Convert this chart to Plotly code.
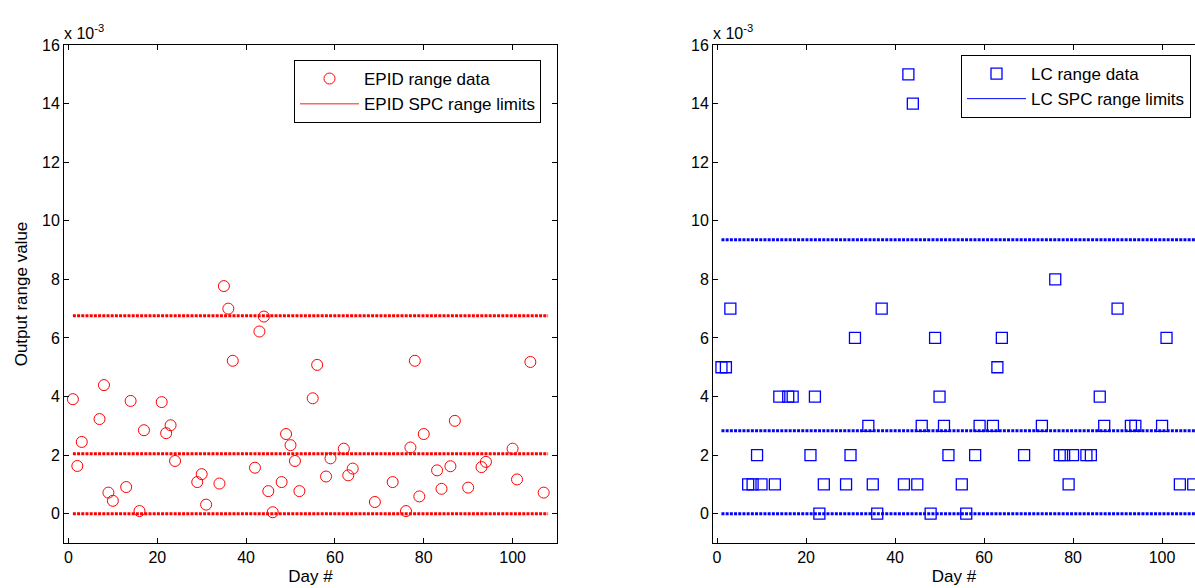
import plotly.graph_objects as go

# Day numbers (shared by both data sets)
days = [1, 2, 3, 7, 8, 9, 10, 13, 14, 16, 17, 21, 22, 23, 24, 29, 30, 31, 34, 35,
        36, 37, 42, 43, 44, 45, 46, 48, 49, 50, 51, 52, 55, 56, 58, 59, 62, 63, 64,
        69, 73, 76, 77, 78, 79, 80, 83, 84, 86, 87, 90, 93, 94, 100, 101, 104, 107]

# Output range values, in units of 1e-3
epid_range = [3.91, 1.63, 2.45, 3.23, 4.39, 0.72, 0.44, 0.91, 3.85, 0.09, 2.85,
              3.81, 2.75, 3.02, 1.80, 1.08, 1.35, 0.31, 1.03, 7.77, 7.00, 5.22,
              1.57, 6.22, 6.73, 0.77, 0.05, 1.08, 2.72, 2.34, 1.80, 0.77, 3.94,
              5.08, 1.27, 1.89, 2.22, 1.31, 1.54, 0.40, 1.08, 0.09, 2.26, 5.22,
              0.59, 2.72, 1.48, 0.85, 1.62, 3.17, 0.89, 1.59, 1.77, 2.22, 1.17,
              5.18, 0.72]

lc_range = [5, 5, 7, 1, 1, 2, 1, 1, 4, 4, 4, 2, 4, 0, 1, 1, 2, 6, 3, 1,
            0, 7, 1, 15, 14, 1, 3, 0, 6, 4, 3, 2, 1, 0, 2, 3, 3, 5, 6,
            2, 3, 8, 2, 2, 1, 2, 2, 2, 4, 3, 7, 3, 3, 3, 6, 1, 1]

# SPC range limits (lower, centre, upper), units of 1e-3
limit_days = [1, 108]
epid_limits = [0.0, 2.05, 6.76]
lc_limits = [0.0, 2.83, 9.35]

RED = "#ff0000"
BLUE = "#0000ff"
FONT = "Liberation Sans, Arial, sans-serif"

W, H = 1195, 588
L_MARG, T_MARG, B_MARG = 0, 45, 45
PH = H - T_MARG - B_MARG

fig = go.Figure()

# ---- left panel ----
fig.add_trace(go.Scatter(
    x=days, y=epid_range, mode="markers", name="EPID range data",
    marker=dict(symbol="circle-open", size=11, color=RED, line=dict(width=1, color=RED)),
    xaxis="x", yaxis="y", legend="legend"))
for v in epid_limits:
    fig.add_trace(go.Scatter(
        x=limit_days, y=[v, v], mode="lines", showlegend=False,
        line=dict(color=RED, width=3, dash="3px,1.2px"),
        xaxis="x", yaxis="y", hoverinfo="skip"))
fig.add_trace(go.Scatter(
    x=[None], y=[None], mode="lines", name="EPID SPC range limits",
    line=dict(color="#ff6666", width=1.5), xaxis="x", yaxis="y", legend="legend"))

# ---- right panel ----
fig.add_trace(go.Scatter(
    x=days, y=lc_range, mode="markers", name="LC range data",
    marker=dict(symbol="square-open", size=11, color=BLUE, line=dict(width=1.3, color=BLUE)),
    xaxis="x2", yaxis="y2", legend="legend2"))
for v in lc_limits:
    fig.add_trace(go.Scatter(
        x=limit_days, y=[v, v], mode="lines", showlegend=False,
        line=dict(color=BLUE, width=3, dash="3px,1.2px"),
        xaxis="x2", yaxis="y2", hoverinfo="skip"))
fig.add_trace(go.Scatter(
    x=[None], y=[None], mode="lines", name="LC SPC range limits",
    line=dict(color=BLUE, width=1), xaxis="x2", yaxis="y2", legend="legend2"))

axis_common = dict(
    showgrid=False, zeroline=False, showline=True, linecolor="black", linewidth=1,
    ticks="inside", ticklen=5, tickcolor="black",
    tickfont=dict(family=FONT, size=16, color="black"),
)

legend_common = dict(xanchor="right", yanchor="top", bgcolor="white",
                     bordercolor="black", borderwidth=1,
                     font=dict(family=FONT, size=17), itemwidth=59, tracegroupgap=0)

fig.update_layout(
    width=W, height=H,
    margin=dict(l=L_MARG, r=0, t=T_MARG, b=B_MARG, autoexpand=False),
    paper_bgcolor="white", plot_bgcolor="white",
    font=dict(family=FONT, size=16, color="black"),
    xaxis=dict(domain=[64 / W, 557 / W], range=[-1, 110], tick0=0, dtick=20,
               mirror="ticks", anchor="y",
               title=dict(text="Day #", standoff=4, font=dict(size=17)), **axis_common),
    yaxis=dict(domain=[0, 1], range=[-1, 16], tick0=0, dtick=2, mirror="ticks", anchor="x",
               title=dict(text="Output range value", standoff=10, font=dict(size=17)),
               **axis_common),
    xaxis2=dict(domain=[713 / W, 1.0], range=[-0.9, 107.4], tick0=0, dtick=20,
                mirror="ticks", anchor="y2",
                title=dict(text="Day #", standoff=4, font=dict(size=17)), **axis_common),
    yaxis2=dict(domain=[0, 1], range=[-1, 16], tick0=0, dtick=2, mirror=False, anchor="x2",
                **axis_common),
    legend=dict(x=541 / W, y=(H - B_MARG - 60) / PH, **legend_common),
    legend2=dict(x=1191 / W, y=(H - B_MARG - 55) / PH, **legend_common),
    annotations=[
        dict(text="x 10<sup>-3</sup>", xref="paper", yref="paper", x=62 / W, y=1,
             xanchor="left", yanchor="bottom", yshift=1, showarrow=False,
             font=dict(family=FONT, size=16)),
        dict(text="x 10<sup>-3</sup>", xref="paper", yref="paper", x=711 / W, y=1,
             xanchor="left", yanchor="bottom", yshift=1, showarrow=False,
             font=dict(family=FONT, size=16)),
    ],
    showlegend=True,
)

fig.write_html("out.html")
